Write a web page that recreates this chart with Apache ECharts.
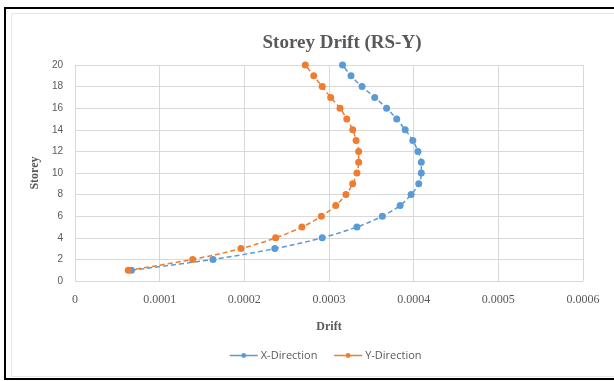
<!DOCTYPE html>
<html>
<head>
<meta charset="utf-8">
<script src="https://cdn.jsdelivr.net/npm/echarts@6/dist/echarts.min.js"></script>
<style>
  html, body { margin: 0; padding: 0; background: #ffffff; }
  #chart { width: 614px; height: 381px; }
</style>
</head>
<body>
<div id="chart"></div>
<script>
// Storey numbers (vertical axis) and inter-storey drift per direction
const storeys = [1, 2, 3, 4, 5, 6, 7, 8, 9, 10, 11, 12, 13, 14, 15, 16, 17, 18, 19, 20];
const driftX = [0.0000667, 0.000163, 0.000236, 0.000292, 0.000333, 0.000363, 0.000384, 0.000397, 0.000406, 0.000409,
                0.000409, 0.000405, 0.000399, 0.000390, 0.000380, 0.000368, 0.000354, 0.000339, 0.000326, 0.000316];
const driftY = [0.0000629, 0.000139, 0.000196, 0.000237, 0.000268, 0.000291, 0.000308, 0.000320, 0.000328, 0.000333,
                0.000335, 0.000335, 0.000332, 0.000328, 0.000321, 0.000313, 0.000302, 0.000292, 0.000282, 0.000272];
const seriesNames = ['X-Direction', 'Y-Direction'];
const xTickLabels = ['0', '0.0001', '0.0002', '0.0003', '0.0004', '0.0005', '0.0006'];

const pairs = (xs) => xs.map((v, i) => [v, storeys[i]]);
const textGray = '#595959';

const chart = echarts.init(document.getElementById('chart'), null, { renderer: 'canvas' });

function lineSeries(name, values, color) {
  return {
    name: name,
    type: 'line',
    data: pairs(values),
    smooth: 0.35,
    symbol: 'circle',
    symbolSize: 7,
    itemStyle: { color: color },
    lineStyle: { color: color, width: 1.5, type: [5, 3] },
    z: 3
  };
}

chart.setOption({
  animation: false,
  backgroundColor: '#ffffff',
  title: {
    text: 'Storey Drift (RS-Y)',
    left: 337, top: 29,
    textAlign: 'center',
    textStyle: { fontFamily: 'Liberation Serif', fontWeight: 'bold', fontSize: 19, color: textGray }
  },
  legend: {
    data: seriesNames,
    left: 224, top: 345,
    itemWidth: 28, itemHeight: 6, itemGap: 16,
    lineStyle: { type: 'solid', width: 1.5 },
    textStyle: { fontFamily: 'Open Sans', fontSize: 11, color: textGray, padding: [0, 0, 0, -2] }
  },
  grid: { left: 75, right: 31, top: 65, bottom: 100, containLabel: false },
  xAxis: {
    type: 'value',
    min: 0, max: 0.0006, interval: 0.0001,
    name: 'Drift',
    nameLocation: 'middle',
    nameGap: 40,
    nameTextStyle: { fontFamily: 'Liberation Serif', fontWeight: 'bold', fontSize: 12, color: textGray },
    axisLine: { show: false },
    axisTick: { show: false },
    axisLabel: {
      margin: 13,
      fontFamily: 'Liberation Serif', fontSize: 12, color: textGray,
      formatter: (v) => xTickLabels[Math.round(v / 0.0001)]
    },
    splitLine: { show: true, lineStyle: { color: '#d9d9d9', width: 1 } }
  },
  yAxis: {
    type: 'value',
    min: 0, max: 20, interval: 2,
    name: 'Storey',
    nameLocation: 'middle',
    nameGap: 29,
    nameRotate: 90,
    nameTextStyle: { fontFamily: 'Liberation Serif', fontWeight: 'bold', fontSize: 12, color: textGray },
    axisLine: { show: false },
    axisTick: { show: false },
    axisLabel: { margin: 12, fontFamily: 'Liberation Sans', fontSize: 10, color: textGray },
    splitLine: { show: true, lineStyle: { color: '#d9d9d9', width: 1 } }
  },
  series: [
    lineSeries(seriesNames[0], driftX, '#5b9bd5'),
    lineSeries(seriesNames[1], driftY, '#ed7d31')
  ],
  graphic: [
    {
      type: 'rect',
      shape: { x: 5, y: 8, width: 614, height: 371 },
      style: { fill: 'none', stroke: '#000000', lineWidth: 2 },
      silent: true
    },
    {
      type: 'rect',
      shape: { x: 11.5, y: 13.5, width: 610, height: 363 },
      style: { fill: 'none', stroke: '#e6e6e6', lineWidth: 1 },
      silent: true
    }
  ]
});
</script>
</body>
</html>
